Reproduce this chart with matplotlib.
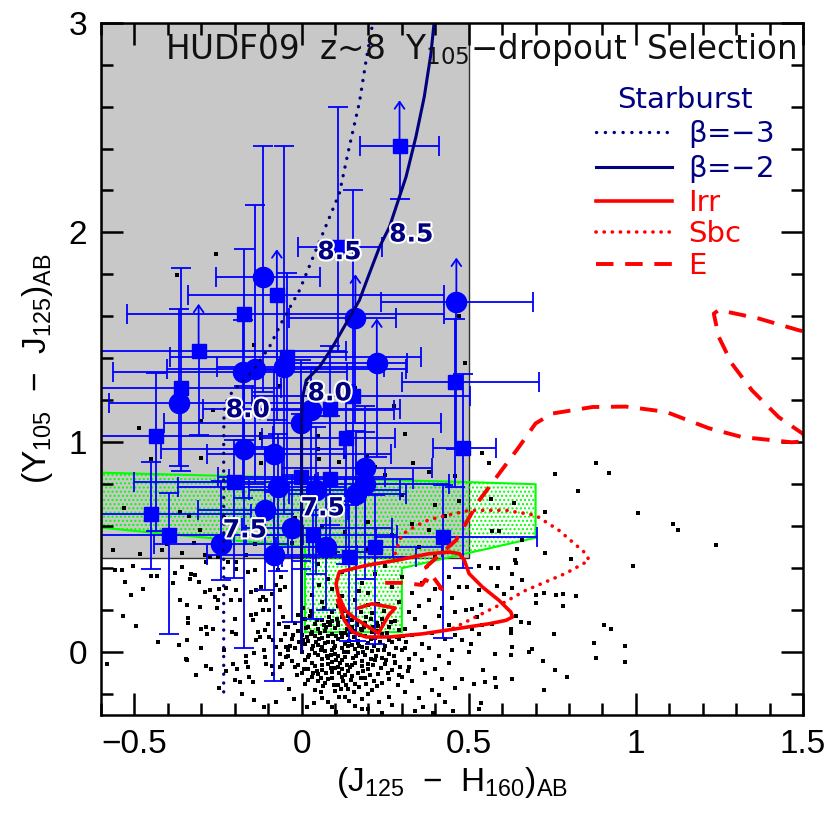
import numpy as np
import matplotlib
matplotlib.use('Agg')
import matplotlib.pyplot as plt
import matplotlib.patheffects as pe
from matplotlib.patches import Polygon, Rectangle
from matplotlib.ticker import MultipleLocator

plt.rcParams['font.family'] = ['Liberation Sans', 'DejaVu Sans']
plt.rcParams['mathtext.default'] = 'regular'

NAVY = '#000080'
BLUE = '#0000ff'
RED = '#ff0000'

# ── Selection window ──────────────────────────────────────────
sel_jh_max = 0.5
sel_yj_min = 0.45

# green contaminant region (J-H, Y-J)
green_jh = [-0.6, 0.5, 0.7, 0.7, 0.30, 0.30, 0.01, 0.01, -0.6]
green_yj = [0.855, 0.81, 0.80, 0.545, 0.40, 0.095, 0.095, 0.50, 0.593]

# ── Model tracks ──────────────────────────────────────────────
beta3_jh = [-0.233, -0.233, -0.233, -0.232, -0.22, -0.195, -0.146, -0.096, -0.057,
            -0.006, 0.044, 0.113, 0.143, 0.173, 0.193, 0.213]
beta3_yj = [-0.19, 0.5, 1.0, 1.15, 1.216, 1.26, 1.34, 1.455, 1.58, 1.725, 1.92,
            2.186, 2.41, 2.62, 2.82, 3.0]

beta2_jh = [0.0, 0.0, 0.0, 0.003, 0.014, 0.054, 0.093, 0.133, 0.173, 0.203, 0.233,
            0.263, 0.3125, 0.342, 0.367, 0.387, 0.397]
beta2_yj = [0.0, 0.6, 1.1, 1.216, 1.296, 1.36, 1.455, 1.566, 1.677, 1.805, 1.93,
            2.027, 2.265, 2.456, 2.647, 2.853, 3.01]

irr_jh = [0.17, 0.21, 0.28, 0.26, 0.23, 0.20, 0.16, 0.13, 0.11, 0.103, 0.113, 0.193,
          0.283, 0.382, 0.442, 0.472, 0.487, 0.501, 0.541, 0.591, 0.626, 0.631,
          0.611, 0.561, 0.462, 0.362, 0.263, 0.193, 0.153, 0.128, 0.108]
irr_yj = [0.21, 0.23, 0.21, 0.175, 0.09, 0.12, 0.16, 0.20, 0.27, 0.326, 0.382, 0.413,
          0.437, 0.469, 0.477, 0.469, 0.437, 0.374, 0.31, 0.246, 0.191, 0.167,
          0.151, 0.135, 0.111, 0.087, 0.072, 0.072, 0.095, 0.151, 0.246]

sbc_jh = [0.28, 0.30, 0.34, 0.38, 0.43, 0.50, 0.61, 0.70, 0.77, 0.85, 0.86, 0.79,
          0.67, 0.60, 0.52, 0.45]
sbc_yj = [0.47, 0.56, 0.60, 0.63, 0.65, 0.675, 0.676, 0.652, 0.58, 0.47, 0.437,
          0.375, 0.294, 0.231, 0.167, 0.111]

e_jh = [0.25, 0.30, 0.36, 0.37, 0.42, 0.372, 0.40, 0.462, 0.53, 0.65, 0.70, 0.75,
        0.87, 0.97, 1.09, 1.218, 1.317, 1.466, 1.51, 1.50, 1.427, 1.347, 1.287,
        1.248, 1.233, 1.248, 1.367, 1.487, 1.55]
e_yj = [0.33, 0.33, 0.32, 0.345, 0.30, 0.405, 0.445, 0.533, 0.72, 0.977, 1.09,
        1.137, 1.168, 1.17, 1.145, 1.067, 1.025, 1.0, 1.005, 1.04, 1.12, 1.248,
        1.375, 1.502, 1.613, 1.63, 1.59, 1.534, 1.51]

# redshift labels along the starburst tracks
z_labels = ['8.5', '8.5', '8.0', '8.0', '7.5', '7.5']
z_lab_jh = [0.113, 0.328, -0.161, 0.084, -0.17, 0.063]
z_lab_yj = [1.906, 1.99, 1.153, 1.233, 0.58, 0.685]

# ── z~8 candidates (circles = bright, squares = faint) ───────
circ_jh = [-0.116, 0.161, 0.463, 0.225, -0.175, -0.14, -0.053, -0.367, -0.003, 0.027,
           -0.172, -0.084, 0.19, 0.19, -0.07, -0.11, -0.029, -0.242, -0.084, 0.044,
           0.074, 0.163]
circ_yj = [1.79, 1.59, 1.67, 1.378, 1.335, 1.35, 1.36, 1.185, 1.094, 1.153, 0.97,
           0.946, 0.875, 0.80, 0.787, 0.676, 0.593, 0.514, 0.461, 0.771, 0.50, 0.755]
circ_xlo = [0.14, 0.20, 0.225, 0.30, 0.39, 0.264, 0.20, 0.21, 0.41, 0.15, 0.25, 0.20,
            0.25, 0.15, 0.30, 0.20, 0.15, 0.20, 0.20, 0.20, 0.15, 0.20]
circ_xhi = [0.17, 0.12, 0.23, 0.09, 0.31, 0.453, 0.30, 0.37, 0.42, 0.25, 0.30, 0.35,
            0.20, 0.25, 0.20, 0.25, 0.30, 0.20, 0.25, 0.25, 0.20, 0.15]
circ_ylo = [0.55, 0.50, 0.70, 0.45, 0.60, 0.55, 0.70, 0.30, 0.70, 0.50, 0.95, 0.50,
            0.40, 0.45, 0.40, 0.38, 0.45, 0.17, 0.60, 0.40, 0.30, 0.70]
circ_yhi = [0.62, None, None, None, 0.25, 0.78, 1.05, 0.45, 0.30, 0.20, 0.30, 0.40,
            0.30, 0.25, 0.25, 0.30, 0.25, 0.30, 0.30, 0.30, 0.25, 0.30]
circ_tip = [None, 1.80, 1.88, 1.59, None, None, None, None, None, None, None, None,
            None, None, None, None, None, None, None, None, None, None]

sq_jh = [0.293, -0.074, -0.173, -0.308, -0.361, -0.044, 0.153, 0.084, 0.133, 0.459,
         0.482, -0.436, -0.451, -0.396, -0.202, -0.001, 0.084, 0.424, 0.221, 0.141,
         0.034, 0.11]
sq_yj = [2.41, 1.704, 1.61, 1.435, 1.261, 1.407, 1.221, 1.157, 1.022, 1.288, 0.975,
         1.029, 0.657, 0.557, 0.811, 0.835, 0.827, 0.548, 0.50, 0.453, 0.557, 1.93]
sq_xlo = [0.117, 0.266, 0.35, 0.30, 0.25, 0.35, 0.30, 0.38, 0.25, 0.16, 0.09, 0.20,
          0.15, 0.25, 0.30, 0.25, 0.30, 0.20, 0.20, 0.20, 0.20, 0.12]
sq_xhi = [0.117, 0.50, 0.60, 0.44, 0.30, 0.40, 0.35, 0.21, 0.145, 0.25, 0.10, 0.35,
          0.30, 0.40, 0.25, 0.25, 0.25, 0.28, 0.20, 0.20, 0.25, 0.13]
sq_ylo = [0.25, 0.60, 0.60, 0.40, 0.40, 0.60, 0.50, 0.55, 0.60, 0.50, 0.575, 0.45,
          0.26, 0.47, 0.46, 0.40, 0.35, 0.48, 0.46, 0.40, 0.40, 0.50]
sq_yhi = [None, None, 0.31, None, 0.57, 0.40, 0.98, 0.30, 0.25, 0.30, 0.35, 0.30,
          0.25, 0.20, 0.20, 0.30, 0.30, 0.25, 0.25, 0.25, 0.25, 0.67]
sq_tip = [2.63, 1.92, None, 1.66, None, None, None, None, None, None, None, None,
          None, None, None, None, None, None, None, None, None, None]

# ── Field galaxies (background cloud) ─────────────────────────
field_right = [(0.54, 0.95), (0.56, 0.90), (0.757, 0.85), (0.88, 0.90), (0.92, 0.854),
    (0.828, 0.766), (1.006, 0.665), (1.11, 0.61), (1.125, 0.58), (1.24, 0.512),
    (0.99, 0.41), (0.727, 0.668), (0.567, 0.731), (0.636, 0.712), (0.57, 0.577),
    (0.59, 0.577), (0.658, 0.536), (0.645, 0.49), (0.727, 0.472), (0.807, 0.445),
    (0.53, 0.41), (0.566, 0.40), (0.589, 0.40), (0.63, 0.37), (0.64, 0.426),
    (0.638, 0.44), (0.658, 0.342), (0.63, 0.307), (0.586, 0.313), (0.606, 0.278),
    (0.701, 0.27), (0.726, 0.283), (0.76, 0.273), (0.783, 0.278), (0.82, 0.265),
    (0.70, 0.234), (0.783, 0.218), (0.64, 0.17), (0.656, 0.143), (0.68, 0.138),
    (0.626, 0.111), (0.626, 0.092), (0.571, 0.135), (0.541, 0.127), (0.531, 0.087),
    (0.511, 0.111), (0.491, 0.199), (0.511, 0.207), (0.526, 0.167), (0.536, 0.223),
    (0.472, 0.31), (0.496, 0.31), (0.531, 0.294), (0.48, 0.056), (0.507, 0.04),
    (0.5, 0.0), (0.58, -0.008), (0.63, 0.024), (0.626, -0.016), (0.68, 0.0),
    (0.69, 0.016), (0.723, -0.043), (0.755, 0.084), (0.757, -0.087), (0.793, -0.119),
    (0.876, 0.043), (0.88, -0.029), (0.905, 0.127), (0.925, 0.108), (0.966, 0.029),
    (0.967, -0.048), (0.726, -0.18), (0.58, -0.122), (0.583, -0.167), (0.55, -0.143),
    (0.516, -0.151), (0.48, -0.127), (0.544, -0.087), (0.538, -0.245), (0.531, -0.27),
    (0.628, -0.13)]

field_left = [(-0.558, 0.39), (-0.538, 0.39), (-0.528, 0.334), (-0.505, 0.409),
    (-0.474, 0.302), (-0.511, 0.273), (-0.533, 0.17), (-0.496, 0.124), (-0.581, -0.056),
    (-0.429, 0.048), (-0.451, 0.361), (-0.432, 0.361), (-0.386, 0.329), (-0.364, 0.25),
    (-0.379, 0.377), (-0.342, 0.223), (-0.339, 0.164), (-0.339, 0.138), (-0.346, -0.032),
    (-0.342, -0.04), (-0.316, -0.108), (-0.366, 0.032), (-0.344, 0.056), (-0.304, 0.215),
    (-0.30, 0.111), (-0.287, 0.119), (-0.283, 0.087), (-0.265, 0.111), (-0.30, 0.019),
    (-0.285, -0.064), (-0.27, -0.079), (-0.25, 0.246), (-0.26, 0.262), (-0.275, 0.294),
    (-0.29, 0.286), (-0.33, 0.374), (-0.32, 0.366), (-0.334, 0.35), (-0.308, 0.332),
    (-0.287, 0.429), (-0.275, 0.453), (-0.248, 0.302), (-0.253, 0.211), (-0.225, 0.307),
    (-0.195, 0.297), (-0.21, 0.246), (-0.185, 0.246), (-0.2, 0.159), (-0.207, 0.095),
    (-0.195, 0.087), (-0.205, -0.056), (-0.193, -0.079), (-0.2, -0.135), (-0.185, -0.143),
    (-0.165, -0.048), (-0.16, -0.072), (-0.143, -0.003), (-0.165, -0.021), (-0.157, -0.119),
    (-0.145, -0.143), (-0.143, -0.227), (-0.135, 0.056), (-0.125, 0.072), (-0.13, 0.095),
    (-0.15, 0.175), (-0.135, 0.183), (-0.145, 0.151), (-0.115, 0.199), (-0.125, 0.246),
    (-0.15, 0.286), (-0.135, 0.294), (-0.12, 0.31), (-0.115, 0.262), (-0.105, 0.246),
    (-0.096, 0.199), (-0.1, 0.135), (-0.11, 0.103), (-0.096, 0.072), (-0.086, 0.056),
    (-0.076, 0.024), (-0.066, -0.008), (-0.061, 0.056), (-0.051, 0.087), (-0.046, 0.119),
    (-0.056, 0.167), (-0.066, 0.215), (-0.066, 0.294), (-0.051, 0.31), (-0.061, 0.358),
    (-0.071, 0.39), (-0.076, 0.318), (-0.09, 0.278), (-0.11, -0.024), (-0.105, -0.056),
    (-0.09, -0.064), (-0.086, -0.103), (-0.066, -0.072), (-0.058, -0.056), (-0.046, -0.024),
    (-0.041, 0.008), (-0.076, -0.238), (-0.404, 0.517), (-0.359, 0.405)]

field_upper = [(-0.563, 0.485), (-0.484, 0.469), (-0.419, 0.485), (-0.359, 0.472),
    (-0.322, 0.52), (-0.336, 0.647), (-0.531, 0.688), (-0.364, 0.668), (-0.304, 0.58),
    (-0.233, 0.64), (-0.195, 0.429), (-0.165, 0.461), (-0.14, 0.517), (-0.16, 0.382),
    (-0.14, 0.39), (-0.195, 0.397), (-0.22, 0.429), (-0.25, 0.453), (-0.29, 0.461),
    (0.08, 0.35), (0.12, 0.38), (0.18, 0.33), (0.22, 0.37), (0.05, 0.42), (0.15, 0.43),
    (0.25, 0.41), (0.10, 0.47), (0.20, 0.49), (0.30, 0.45), (0.35, 0.50), (0.40, 0.46),
    (0.27, 0.56), (0.33, 0.61), (0.38, 0.58), (0.43, 0.65), (0.20, 0.62), (0.13, 0.57),
    (0.06, 0.60), (-0.03, 0.52), (0.47, 0.72), (0.40, 0.70), (0.30, 0.75), (-0.02, 0.64),
    (0.46, 0.84), (0.22, 0.88), (0.13, 0.93), (0.05, 0.97), (-0.12, 1.02), (-0.30, 1.10),
    (-0.45, 0.92), (-0.31, 1.44), (0.16, 1.26), (0.31, 1.04), (0.05, 1.03), (-0.19, 1.16),
    (0.47, 1.60), (0.02, 1.28), (-0.255, 1.895), (-0.373, 1.796), (-0.486, 1.07),
    (-0.265, 1.153), (-0.30, 0.925), (-0.142, 1.463), (-0.066, 1.267), (-0.12, 1.04),
    (-0.121, 0.90), (0.275, 1.173), (0.49, 1.38), (0.052, 0.922), (0.113, 0.906),
    (0.196, 0.933), (0.332, 0.901), (0.382, 0.858), (0.25, 0.843)]

field_core = [(0.03, 0.18), (0.09, 0.19), (0.14, 0.17), (0.21, 0.185), (0.01, 0.16),
    (0.06, 0.155), (0.12, 0.165), (0.17, 0.15), (0.24, 0.16), (-0.02, 0.14), (0.04, 0.135),
    (0.08, 0.145), (0.11, 0.13), (0.19, 0.14), (0.23, 0.125), (0.02, 0.12), (0.05, 0.11),
    (0.10, 0.115), (0.15, 0.12), (0.18, 0.105), (0.26, 0.12), (-0.01, 0.10), (0.03, 0.095),
    (0.07, 0.10), (0.13, 0.09), (0.16, 0.10), (0.21, 0.095), (0.29, 0.105), (0.00, 0.08),
    (0.04, 0.075), (0.09, 0.085), (0.12, 0.07), (0.14, 0.08), (0.19, 0.075), (0.24, 0.085),
    (-0.03, 0.06), (0.02, 0.055), (0.06, 0.065), (0.08, 0.05), (0.11, 0.06), (0.17, 0.055),
    (0.22, 0.065), (0.27, 0.05), (0.01, 0.04), (0.05, 0.035), (0.07, 0.045), (0.10, 0.03),
    (0.13, 0.04), (0.15, 0.035), (0.20, 0.045), (0.25, 0.03), (-0.02, 0.02), (0.03, 0.015),
    (0.06, 0.025), (0.09, 0.01), (0.12, 0.02), (0.16, 0.015), (0.18, 0.025), (0.23, 0.01),
    (0.31, 0.02), (0.00, 0.0), (0.04, -0.005), (0.07, 0.005), (0.10, -0.01), (0.14, 0.0),
    (0.17, -0.005), (0.21, 0.005), (0.26, -0.01), (-0.04, -0.02), (0.02, -0.025),
    (0.05, -0.015), (0.08, -0.03), (0.11, -0.02), (0.13, -0.025), (0.19, -0.015),
    (0.24, -0.03), (0.01, -0.04), (0.03, -0.05), (0.06, -0.035), (0.09, -0.045),
    (0.12, -0.04), (0.16, -0.05), (0.22, -0.04), (0.28, -0.045), (-0.01, -0.06),
    (0.04, -0.065), (0.08, -0.055), (0.11, -0.07), (0.15, -0.06), (0.18, -0.065),
    (0.25, -0.055), (0.02, -0.08), (0.06, -0.085), (0.10, -0.075), (0.14, -0.09),
    (0.20, -0.08), (0.27, -0.085), (0.00, -0.10), (0.05, -0.105), (0.09, -0.095),
    (0.13, -0.11), (0.17, -0.10), (0.23, -0.105), (0.03, -0.12), (0.08, -0.13),
    (0.12, -0.12), (0.19, -0.125), (0.30, -0.12), (0.01, -0.15), (0.07, -0.145),
    (0.11, -0.155), (0.16, -0.15), (0.24, -0.145), (0.04, -0.18), (0.10, -0.185),
    (0.14, -0.175), (0.21, -0.18), (0.06, -0.22), (0.13, -0.215), (0.18, -0.225),
    (0.09, -0.26), (0.16, -0.255), (0.015, 0.07), (0.035, 0.03), (0.055, 0.09),
    (0.075, -0.02), (0.095, 0.05), (0.115, -0.05), (0.135, 0.11), (0.155, -0.03),
    (0.175, 0.08), (0.195, 0.02), (0.215, -0.06), (0.235, 0.05), (0.045, -0.09),
    (0.085, 0.13), (0.125, -0.14), (0.165, 0.13), (0.205, -0.11), (0.025, 0.17),
    (0.065, -0.16), (0.105, 0.16), (0.145, -0.07), (0.185, -0.09), (0.225, 0.14),
    (0.255, 0.09), (0.285, 0.07), (0.275, -0.02), (0.295, -0.07), (-0.015, -0.11),
    (-0.025, 0.08), (-0.035, 0.03), (-0.02, -0.07), (0.005, 0.21), (0.06, 0.24),
    (0.11, 0.22), (0.16, 0.25), (0.23, 0.23), (0.03, 0.27), (0.09, 0.30), (0.20, 0.28)]

field_core2 = [(0.012, 0.115), (0.052, 0.062), (0.083, 0.168), (0.097, 0.021),
    (0.118, 0.092), (0.142, 0.052), (0.158, 0.072), (0.172, 0.028), (0.188, 0.118),
    (0.208, 0.062), (0.228, 0.102), (0.248, 0.008), (0.262, 0.058), (0.022, -0.012),
    (0.042, 0.048), (0.062, -0.062), (0.078, 0.078), (0.102, -0.038), (0.122, -0.082),
    (0.138, 0.028), (0.152, -0.112), (0.168, 0.042), (0.182, -0.042), (0.198, -0.058),
    (0.218, 0.028), (0.238, -0.078), (0.258, -0.098), (0.018, -0.132), (0.048, -0.138),
    (0.072, -0.102), (0.092, -0.122), (0.112, -0.098), (0.132, -0.158), (0.148, -0.132),
    (0.172, -0.168), (0.192, -0.152), (0.218, -0.138), (0.028, 0.198), (0.068, 0.208),
    (0.128, 0.198), (0.178, 0.192), (0.198, 0.222), (0.248, 0.198), (-0.008, 0.048),
    (-0.028, -0.042), (-0.012, 0.175), (0.068, 0.128), (0.092, 0.148), (0.152, 0.152),
    (0.208, 0.158), (0.268, 0.142), (0.282, 0.018), (0.302, 0.078), (0.322, -0.032),
    (0.058, -0.192), (0.112, -0.212), (0.142, -0.232), (0.198, -0.202), (0.078, -0.238),
    (0.038, -0.242), (0.122, 0.268), (0.172, 0.292), (0.052, 0.318), (-0.042, 0.118)]

field_core3 = [(0.005, 0.058), (0.027, 0.088), (0.047, 0.152), (0.058, 0.008),
    (0.073, 0.118), (0.088, -0.012), (0.103, 0.078), (0.108, 0.138), (0.127, 0.002),
    (0.133, 0.148), (0.147, 0.098), (0.163, -0.018), (0.177, 0.112), (0.183, 0.002),
    (0.193, 0.168), (0.213, 0.118), (0.222, -0.018), (0.243, 0.132), (0.253, -0.038),
    (0.008, -0.082), (0.033, -0.098), (0.057, -0.122), (0.087, -0.078), (0.097, -0.158),
    (0.117, -0.178), (0.137, -0.062), (0.157, -0.192), (0.177, -0.122), (0.207, -0.032),
    (0.227, -0.162), (0.262, -0.128), (0.287, -0.158), (0.312, 0.048), (0.318, -0.088),
    (-0.058, -0.132), (-0.048, 0.022), (-0.068, 0.132), (-0.038, -0.178), (-0.022, -0.222),
    (0.015, -0.262), (0.102, -0.285), (0.182, -0.272), (0.232, -0.238), (0.262, -0.212),
    (0.362, -0.262), (0.412, -0.205), (0.392, -0.292), (0.452, -0.282), (-0.112, -0.262),
    (-0.178, -0.198), (-0.248, -0.172), (-0.232, 0.012), (-0.225, -0.092), (-0.112, 0.012)]

field_mid = [(0.27, 0.31), (0.30, 0.36), (0.33, 0.28), (0.36, 0.33), (0.40, 0.30),
    (0.44, 0.36), (0.29, 0.24), (0.32, 0.19), (0.35, 0.22), (0.38, 0.25), (0.42, 0.21),
    (0.45, 0.26), (0.28, 0.15), (0.31, 0.11), (0.34, 0.16), (0.37, 0.12), (0.41, 0.17),
    (0.44, 0.13), (0.46, 0.19), (0.29, 0.06), (0.33, 0.08), (0.36, 0.04), (0.39, 0.09),
    (0.43, 0.06), (0.46, 0.08), (0.30, 0.01), (0.34, -0.01), (0.38, 0.02), (0.41, -0.02),
    (0.45, 0.01), (0.28, -0.05), (0.32, -0.07), (0.36, -0.04), (0.40, -0.08), (0.44, -0.05),
    (0.29, -0.11), (0.33, -0.14), (0.37, -0.10), (0.42, -0.13), (0.46, -0.17), (0.31, -0.19),
    (0.35, -0.22), (0.39, -0.18), (0.27, -0.25), (0.43, -0.24), (0.34, -0.28), (0.24, -0.29),
    (0.20, -0.27)]

fig = plt.figure(figsize=(8.3, 8.23), dpi=100)
ax = fig.add_axes([0.1217, 0.1312, 0.8458, 0.8413])
ax.set_xlim(-0.6, 1.5)
ax.set_ylim(-0.3, 3.0)

# gray selection window
ax.add_patch(Rectangle((-0.6, sel_yj_min), sel_jh_max + 0.6, 3.0 - sel_yj_min,
                       facecolor='#c8c8c8', edgecolor='#303030', lw=1.0, zorder=0))

# green region (hatched)
plt.rcParams['hatch.linewidth'] = 1.0
plt.rcParams['hatch.color'] = '#00ff00'
ax.add_patch(Polygon(np.column_stack([green_jh, green_yj]), closed=True,
                     facecolor='none', edgecolor='#00ff00', hatch='....', lw=1.5, zorder=1))

# field galaxies
for grp in [field_right, field_left, field_upper, field_core, field_core2, field_core3,
            field_mid]:
    gx, gy = zip(*grp)
    ax.scatter(gx, gy, s=6, marker='s', color='black', linewidths=0, zorder=2)


def draw_candidates(xs, ys, xlo, xhi, ylo, yhi, tips, marker, ms):
    for x, y, a, b, c, d, t in zip(xs, ys, xlo, xhi, ylo, yhi, tips):
        kw = dict(fmt=marker, ms=ms, color=BLUE, ecolor=BLUE, elinewidth=1.3,
                  capsize=7, capthick=1.3, zorder=4)
        if t is None:
            ax.errorbar(x, y, xerr=[[a], [b]], yerr=[[c], [d]], **kw)
        else:
            ax.errorbar(x, y, xerr=[[a], [b]], **kw)
            ax.vlines(x, y - c, y, color=BLUE, lw=1.3, zorder=4)
            ax.plot([x], [y - c], marker='_', ms=14, mew=1.3, color=BLUE, zorder=4)
            ax.annotate('', xy=(x, t), xytext=(x, y), zorder=4,
                        arrowprops=dict(arrowstyle='->,head_length=0.5,head_width=0.35',
                                        color=BLUE, lw=1.3, shrinkA=0, shrinkB=0))


draw_candidates(sq_jh, sq_yj, sq_xlo, sq_xhi, sq_ylo, sq_yhi, sq_tip, 's', 10.5)
draw_candidates(circ_jh, circ_yj, circ_xlo, circ_xhi, circ_ylo, circ_yhi, circ_tip, 'o', 14.5)

# tracks
l_b3, = ax.plot(beta3_jh, beta3_yj, color=NAVY, lw=2.4, ls=(0, (0.05, 2.6)),
                dash_capstyle='round', zorder=5)
l_b2, = ax.plot(beta2_jh, beta2_yj, color=NAVY, lw=2.2, zorder=5)
l_irr, = ax.plot(irr_jh, irr_yj, color=RED, lw=2.6, zorder=5)
l_sbc, = ax.plot(sbc_jh, sbc_yj, color=RED, lw=2.6, ls=(0, (0.05, 2.2)),
                 dash_capstyle='round', zorder=5)
l_e, = ax.plot(e_jh, e_yj, color=RED, lw=2.8, ls=(0, (4.5, 3)), zorder=5)

for lab, lx, ly in zip(z_labels, z_lab_jh, z_lab_yj):
    ax.text(lx, ly, lab, color=NAVY, fontsize=18, fontweight='bold', family='DejaVu Sans',
            ha='center', va='center', zorder=6,
            path_effects=[pe.withStroke(linewidth=3, foreground='white')])

ax.text(-0.41, 2.87, 'HUDF09  z~8  Y$_{105}$$-$dropout  Selection', fontsize=23.5,
        family='DejaVu Sans', color='#111111', ha='left', va='center', zorder=6)

leg = ax.legend([l_b3, l_b2, l_irr, l_sbc, l_e],
                [r'$\beta$=$-$3', r'$\beta$=$-$2', 'Irr', 'Sbc', 'E'],
                loc='upper right', bbox_to_anchor=(0.975, 0.925), frameon=False,
                title='Starburst', prop={'family': 'DejaVu Sans', 'size': 21},
                title_fontsize=21, handlelength=2.6, handletextpad=0.55,
                labelspacing=0.12, borderaxespad=0.0,
                labelcolor=[NAVY, NAVY, RED, RED, RED])
leg.get_title().set_color(NAVY)
leg.get_title().set_family('DejaVu Sans')

# axes styling
ax.xaxis.set_major_locator(MultipleLocator(0.5))
ax.xaxis.set_minor_locator(MultipleLocator(0.1))
ax.yaxis.set_major_locator(MultipleLocator(1))
ax.yaxis.set_minor_locator(MultipleLocator(0.2))
ax.tick_params(which='both', direction='in', top=True, right=True, width=1.8,
               labelsize=24, pad=10)
ax.tick_params(which='major', length=16)
ax.tick_params(which='minor', length=8.5)
ax.xaxis.set_major_formatter(plt.FuncFormatter(lambda v, p: ('%g' % v).replace('-', '\u2212')))
ax.yaxis.set_major_formatter(plt.FuncFormatter(lambda v, p: '%g' % v))
for sp in ax.spines.values():
    sp.set_linewidth(1.8)
    sp.set_zorder(7)

ax.set_xlabel('(J$_{125}$  $-$  H$_{160}$)$_{AB}$', fontsize=24, labelpad=4)
ax.set_ylabel('(Y$_{105}$  $-$  J$_{125}$)$_{AB}$', fontsize=24, labelpad=10)

fig.savefig('out.png', dpi=100)
